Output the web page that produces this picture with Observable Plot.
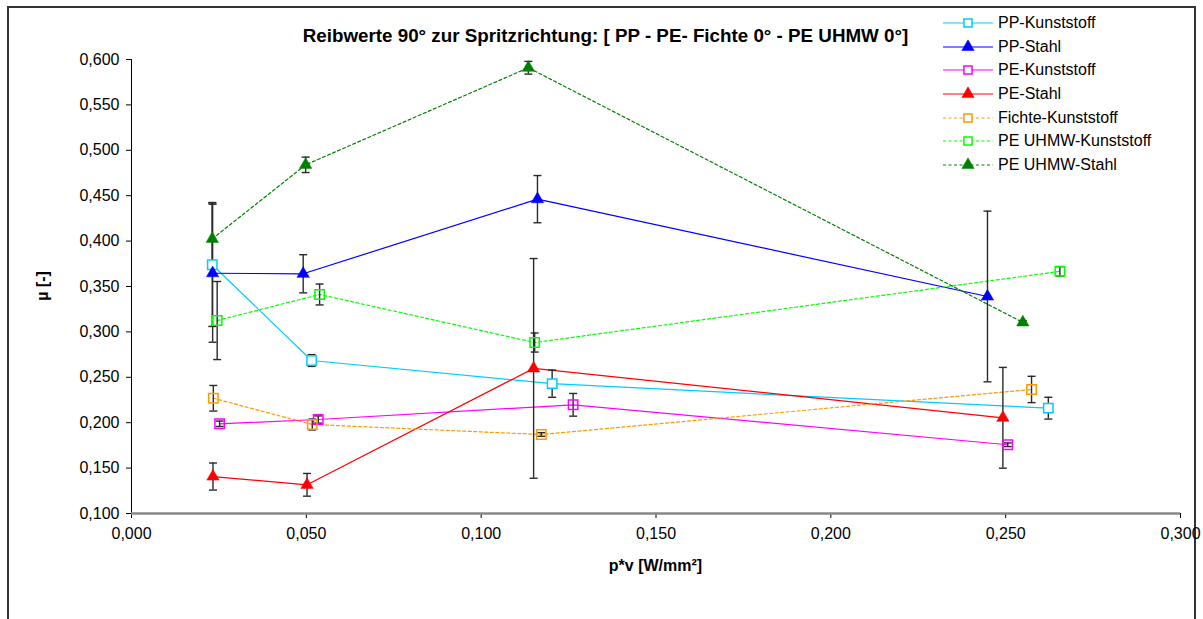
<!DOCTYPE html>
<html>
<head>
<meta charset="utf-8">
<script src="https://cdn.jsdelivr.net/npm/d3@7"></script>
<script src="https://cdn.jsdelivr.net/npm/@observablehq/plot@0.6"></script>
<style>
  html, body { margin: 0; padding: 0; background: #fff; overflow: hidden; }
  #wrap { position: relative; width: 1203px; height: 619px; font-family: "Liberation Sans", Arial, sans-serif; color: #000; }
  #frame { position: absolute; left: 7px; top: 6px; width: 1189px; height: 660px; border: 2px solid #333; box-sizing: border-box; }
  #chart { position: absolute; left: 0; top: 0; }
  #title { position: absolute; left: 0; width: 1211px; top: 25px; text-align: center; font-weight: bold; font-size: 18.8px; line-height: 22px; white-space: nowrap; }
  #xlabel { position: absolute; left: 0; width: 1311px; top: 557px; text-align: center; font-weight: bold; font-size: 16px; }
  #ylabel { position: absolute; left: 43px; top: 286px; transform: translate(-50%, -50%) rotate(-90deg); font-weight: bold; font-size: 16px; white-space: nowrap; }
  #legend { position: absolute; left: 943px; top: 11px; font-size: 16px; }
  .row { display: flex; align-items: center; height: 23.7px; }
  .row svg { display: block; }
  .row span { margin-left: 5px; white-space: nowrap; }
</style>
</head>
<body>
<div id="wrap">
  <div id="frame"></div>
  <div id="chart"></div>
  <div id="title">Reibwerte 90° zur Spritzrichtung: [ PP - PE- Fichte 0° - PE UHMW 0°]</div>
  <div id="xlabel">p*v [W/mm²]</div>
  <div id="ylabel">µ [-]</div>
  <div id="legend"></div>
</div>
<script>
// ---- data ----
const seriesNames = ["PP-Kunststoff", "PP-Stahl", "PE-Kunststoff", "PE-Stahl", "Fichte-Kunststoff", "PE UHMW-Kunststoff", "PE UHMW-Stahl"];
const seriesColors = ["#00CCFF", "#0000FF", "#FF00FF", "#FF0000", "#FF9900", "#00FF00", "#008000"];
const seriesMarker = ["square", "triangle", "square", "triangle", "square", "square", "triangle"];
const seriesDashed = [false, false, false, false, true, true, true];

const ppKunststoffX = [0.0231, 0.0515, 0.1203, 0.2622];
const ppKunststoffY = [0.374, 0.2685, 0.243, 0.216];
const ppKunststoffErr = [0.068, 0.0065, 0.015, 0.012];

const ppStahlX = [0.0232, 0.0491, 0.1161, 0.2448];
const ppStahlY = [0.3646, 0.364, 0.4462, 0.339];
const ppStahlErr = [0.076, 0.021, 0.026, 0.094];

const peKunststoffX = [0.0252, 0.0534, 0.1263, 0.2506];
const peKunststoffY = [0.1988, 0.2035, 0.2197, 0.1757];
const peKunststoffErr = [0.003, 0.004, 0.0125, 0.002];

const peStahlX = [0.0233, 0.0502, 0.1150, 0.2492];
const peStahlY = [0.1407, 0.1316, 0.2598, 0.2054];
const peStahlErr = [0.0149, 0.0125, 0.121, 0.0555];

const fichteKunststoffX = [0.0234, 0.0517, 0.1172, 0.2574];
const fichteKunststoffY = [0.2269, 0.198, 0.187, 0.2366];
const fichteKunststoffErr = [0.0141, 0.006, 0.002, 0.0145];

const uhmwKunststoffX = [0.0245, 0.0538, 0.1153, 0.2655];
const uhmwKunststoffY = [0.3125, 0.3412, 0.2883, 0.3667];
const uhmwKunststoffErr = [0.043, 0.0115, 0.0105, 0.0053];

const uhmwStahlX = [0.0231, 0.0498, 0.1135, 0.2549];
const uhmwStahlY = [0.4025, 0.484, 0.5909, 0.3105];
const uhmwStahlErr = [0.04, 0.0085, 0.007, 0.002];

const xTicks = [0, 0.05, 0.1, 0.15, 0.2, 0.25, 0.3];
const yTicks = [0.1, 0.15, 0.2, 0.25, 0.3, 0.35, 0.4, 0.45, 0.5, 0.55, 0.6];

// ---- build table ----
const seriesData = [
  [ppKunststoffX, ppKunststoffY, ppKunststoffErr],
  [ppStahlX, ppStahlY, ppStahlErr],
  [peKunststoffX, peKunststoffY, peKunststoffErr],
  [peStahlX, peStahlY, peStahlErr],
  [fichteKunststoffX, fichteKunststoffY, fichteKunststoffErr],
  [uhmwKunststoffX, uhmwKunststoffY, uhmwKunststoffErr],
  [uhmwStahlX, uhmwStahlY, uhmwStahlErr]
];
const rows = [];
seriesData.forEach(([xs, ys, es], i) => {
  xs.forEach((x, j) => rows.push({series: seriesNames[i], idx: i, x, y: ys[j], e: es[j]}));
});

const fmt = d => d.toFixed(3).replace(".", ",");
const capSymbol = {
  draw(ctx, size) {
    const r = Math.sqrt(size / Math.PI);
    ctx.moveTo(-r, 0); ctx.lineTo(r, 0);
  }
};
const errColor = "#2a2a2a";

const marks = [];
// series lines
seriesNames.forEach((name, i) => {
  marks.push(Plot.line(rows.filter(d => d.idx === i), {
    x: "x", y: "y", stroke: seriesColors[i], strokeWidth: 1.2,
    strokeDasharray: seriesDashed[i] ? "3,2.5" : null
  }));
});
// error bars
marks.push(Plot.ruleX(rows, {x: "x", y1: d => d.y - d.e, y2: d => d.y + d.e, stroke: errColor, strokeWidth: 1.4}));
marks.push(Plot.dot(rows, {x: "x", y: d => d.y - d.e, symbol: capSymbol, r: 4, stroke: errColor, strokeWidth: 1.4}));
marks.push(Plot.dot(rows, {x: "x", y: d => d.y + d.e, symbol: capSymbol, r: 4, stroke: errColor, strokeWidth: 1.4}));
// markers
seriesNames.forEach((name, i) => {
  const data = rows.filter(d => d.idx === i);
  if (seriesMarker[i] === "triangle") {
    marks.push(Plot.dot(data, {x: "x", y: "y", symbol: "triangle", r: 4.6, fill: seriesColors[i], stroke: seriesColors[i], strokeWidth: 0.5}));
  } else {
    marks.push(Plot.dot(data, {x: "x", y: "y", symbol: "square", r: 5.3, fill: i === 0 ? "white" : "none", stroke: seriesColors[i], strokeWidth: 1.5}));
  }
});
// axes
marks.push(Plot.axisX({ticks: xTicks, tickFormat: fmt, tickSize: 5, tickPadding: 9, label: null, fontSize: 16}));
marks.push(Plot.axisY({ticks: yTicks, tickFormat: fmt, tickSize: 5, tickPadding: 7, label: null, fontSize: 16}));
marks.push(Plot.ruleX([0], {stroke: "black", strokeWidth: 1}));
marks.push(Plot.ruleY([0.1], {stroke: "#888", strokeWidth: 2.5}));

const chart = Plot.plot({
  width: 1203,
  height: 619,
  marginLeft: 131,
  marginRight: 23,
  marginTop: 59,
  marginBottom: 106,
  x: {domain: [0, 0.3]},
  y: {domain: [0.1, 0.6]},
  style: {fontFamily: "'Liberation Sans', Arial, sans-serif", fontSize: "16px", color: "black", background: "transparent"},
  marks
});
document.getElementById("chart").appendChild(chart);

// legend
const legend = d3.select("#legend");
seriesNames.forEach((name, i) => {
  const row = legend.append("div").attr("class", "row");
  const svg = row.append("svg").attr("width", 50).attr("height", 20);
  svg.append("line").attr("x1", 0).attr("x2", 50).attr("y1", 10).attr("y2", 10)
    .attr("stroke", seriesColors[i]).attr("stroke-width", 1.2)
    .attr("stroke-dasharray", seriesDashed[i] ? "3,2.5" : null);
  const sym = d3.symbol().type(seriesMarker[i] === "triangle" ? d3.symbolTriangle : d3.symbolSquare)
    .size(Math.PI * 4.6 * 4.6);
  svg.append("path").attr("d", sym()).attr("transform", "translate(25,10)")
    .attr("fill", seriesMarker[i] === "triangle" ? seriesColors[i] : "white")
    .attr("stroke", seriesColors[i]).attr("stroke-width", seriesMarker[i] === "triangle" ? 0.5 : 1.5);
  row.append("span").text(name);
});
</script>
</body>
</html>
